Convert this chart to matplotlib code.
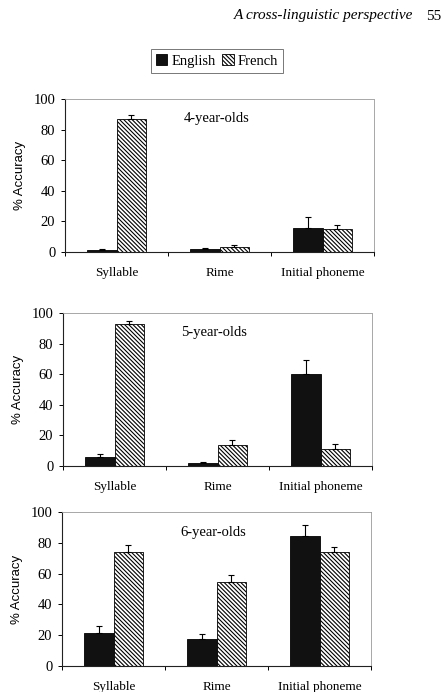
import matplotlib
matplotlib.use("Agg")
import matplotlib.pyplot as plt
import numpy as np

plt.rcParams['hatch.linewidth'] = 0.8

categories = ["Syllable", "Rime", "Initial phoneme"]
series = ["English", "French"]
panel_titles = ["4-year-olds", "5-year-olds", "6-year-olds"]

english_4 = [1.1, 1.7, 15.4]
english_4_err = [0.9, 0.8, 7.4]
french_4 = [87.0, 3.0, 14.8]
french_4_err = [2.8, 1.3, 2.8]

english_5 = [5.7, 1.7, 60.1]
english_5_err = [2.1, 1.1, 8.9]
french_5 = [93.0, 13.7, 10.9]
french_5_err = [1.8, 3.3, 3.3]

english_6 = [21.5, 17.6, 84.1]
english_6_err = [4.5, 3.4, 7.4]
french_6 = [74.1, 54.3, 74.1]
french_6_err = [4.2, 4.6, 3.3]

yticks = [0, 20, 40, 60, 80, 100]

W, H = 446, 692
fig = plt.figure(figsize=(W / 100, H / 100), dpi=100)
fig.patch.set_facecolor("white")

serif = "Liberation Serif"
sans = "Liberation Sans"

# header
fig.text(413 / W, 1 - 16 / H, "A cross-linguistic perspective", ha="right", va="center",
         fontsize=11, fontstyle="italic", family=serif)
fig.text(441 / W, 1 - 16 / H, "55", ha="right", va="center", fontsize=11, family=serif)

panels = [
    (english_4, english_4_err, french_4, french_4_err, (65, 374, 99, 252)),
    (english_5, english_5_err, french_5, french_5_err, (63, 372, 313, 466)),
    (english_6, english_6_err, french_6, french_6_err, (62, 371, 512, 666)),
]

bw = 0.286
x = np.arange(len(categories))
handles = None
for (en, ene, fr, fre, (l, r, t, b)), title in zip(panels, panel_titles):
    ax = fig.add_axes([l / W, 1 - b / H, (r - l) / W, (b - t) / H])
    h1 = ax.bar(x - bw / 2, en, bw, color="#111111", edgecolor="black", linewidth=0.6,
                yerr=[np.zeros(3), ene], error_kw=dict(ecolor="black", elinewidth=0.8,
                                                        capsize=2.5, capthick=0.8))
    h2 = ax.bar(x + bw / 2, fr, bw, color="white", edgecolor="black", linewidth=0.6,
                hatch="\\" * 8,
                yerr=[np.zeros(3), fre], error_kw=dict(ecolor="black", elinewidth=0.8,
                                                        capsize=2.5, capthick=0.8))
    handles = (h1, h2)
    ax.set_xlim(-0.5, 2.5)
    ax.set_ylim(0, 100)
    ax.set_yticks(yticks)
    ax.set_yticklabels([str(v) for v in yticks], family=serif, fontsize=10.5)
    ax.set_xticks([-0.5, 0.5, 1.5, 2.5])
    ax.set_xticklabels([])
    ax.set_xticks(x, minor=True)
    ax.set_xticklabels(categories, minor=True, family=serif, fontsize=9.5)
    ax.tick_params(axis="x", which="minor", length=0, pad=11)
    ax.tick_params(axis="x", which="major", length=3, width=0.7, direction="out")
    ax.tick_params(axis="y", length=3, width=0.7, direction="out", pad=4)
    for s in ["left", "bottom"]:
        ax.spines[s].set_color("#222222")
        ax.spines[s].set_linewidth(0.8)
    for s in ["top", "right"]:
        ax.spines[s].set_color("#999999")
        ax.spines[s].set_linewidth(0.6)
        ax.spines[s].set_linestyle((0, (1, 1)))
    ax.text(0.49, 0.87, title, transform=ax.transAxes, ha="center", va="center",
            family=serif, fontsize=10.5)
    ax.set_ylabel("% Accuracy", family=sans, fontsize=9.5, labelpad=5)

leg = fig.legend(handles, series, loc="center", bbox_to_anchor=(217 / W, 1 - 61 / H),
                 ncol=2, frameon=True, fancybox=False, prop=dict(family=serif, size=10.5),
                 handlelength=0.8, handleheight=0.8, handletextpad=0.3, columnspacing=0.4,
                 borderpad=0.35, borderaxespad=0)
leg.get_frame().set_edgecolor("#555555")
leg.get_frame().set_linewidth(0.7)

fig.savefig("out.png", dpi=100, facecolor="white")
